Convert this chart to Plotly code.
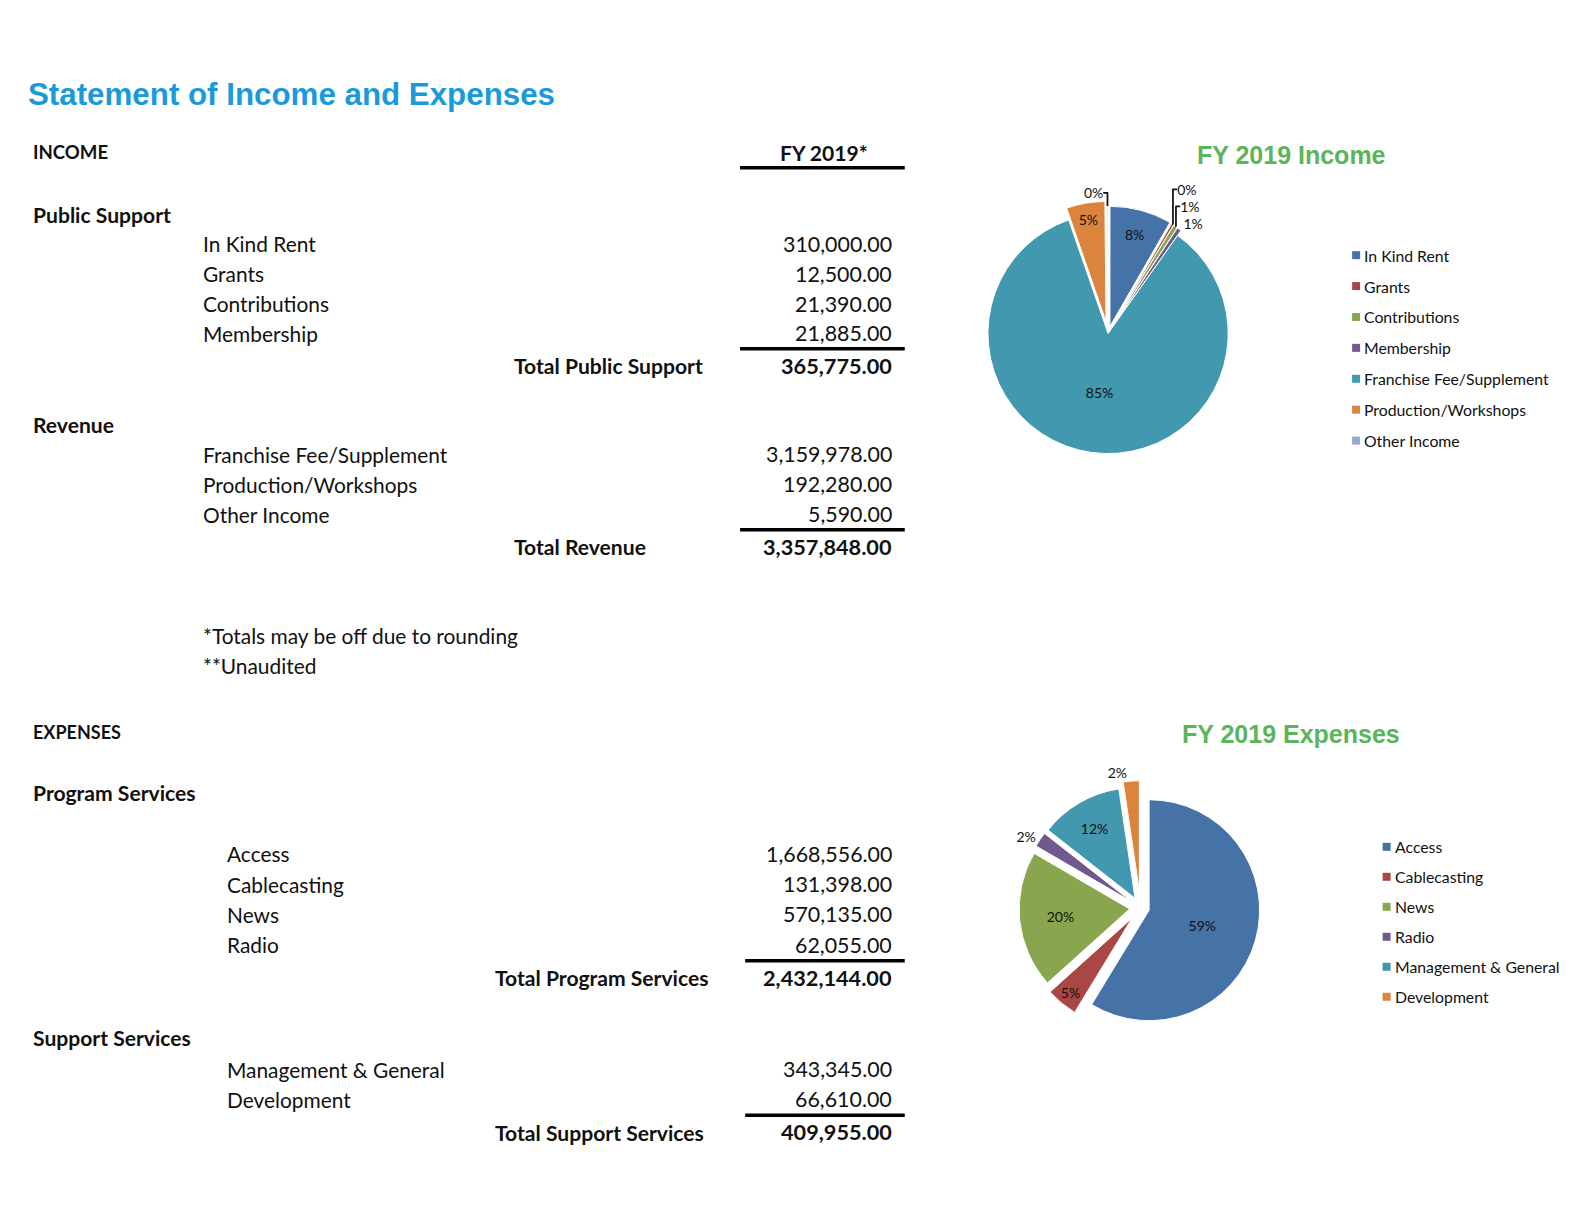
import plotly.graph_objects as go

public_support_labels = ["In Kind Rent", "Grants", "Contributions", "Membership"]
public_support_values = [310000.00, 12500.00, 21390.00, 21885.00]

revenue_labels = ["Franchise Fee/Supplement", "Production/Workshops", "Other Income"]
revenue_values = [3159978.00, 192280.00, 5590.00]

program_labels = ["Access", "Cablecasting", "News", "Radio"]
program_values = [1668556.00, 131398.00, 570135.00, 62055.00]

support_labels = ["Management & General", "Development"]
support_values = [343345.00, 66610.00]

footnotes = ["*Totals may be off due to rounding", "**Unaudited"]

income_colors = ["#4572A7", "#AA4643", "#89A54E", "#71588F", "#4198AF", "#DB843D", "#93A9CF"]
expense_colors = ["#4572A7", "#AA4643", "#89A54E", "#71588F", "#4198AF", "#DB843D"]

income_labels = public_support_labels + revenue_labels
income_values = public_support_values + revenue_values
expense_labels = program_labels + support_labels
expense_values = program_values + support_values

# page is 1594x1209, the browser body keeps an 8px margin.
# positions below were measured on a preview drawn at scale S of the page.
PAGE_W, PAGE_H, PAD = 1594, 1209, 8
S = 1568 / 1594
W, H = PAGE_W - 2 * PAD, PAGE_H - 2 * PAD
BODY = "Lato, Carlito, Calibri, sans-serif"
HEAD = "Liberation Sans, Arial, sans-serif"


def money(v):
    return f"{v:,.2f}"


fig = go.Figure()
ann = []
shapes = []


def txt(x, y, s, size=20.9, bold=False, anchor="left", color="#111", font=BODY):
    if bold:
        s = "<b>" + s + "</b>"
    ann.append(dict(x=x, y=y, xref="x", yref="y", text=s, showarrow=False,
                    xanchor=anchor, yanchor="middle", borderpad=0,
                    font=dict(family=font, size=size, color=color)))


def rule(x0, x1, y):
    shapes.append(dict(type="line", xref="x", yref="y", x0=x0, x1=x1, y0=y, y1=y,
                       line=dict(color="black", width=3.5)))


VAL_X = 878
VAL_SIZE = 21.4
BOLD_SIZE = 21.1
TOT_SIZE = 21.7
CAPS_SIZE = 18.6

# title
txt(27, 93, "Statement of Income and Expenses", size=31.3, bold=True, color="#1A9AD8", font=HEAD)

# income block
txt(31, 150, "INCOME", size=CAPS_SIZE, bold=True)
txt(811, 150, "FY 2019*", size=BOLD_SIZE, bold=True, anchor="center")
rule(728, 890, 165)

txt(31, 211, "Public Support", size=BOLD_SIZE, bold=True)
y = 240
for lab, val in zip(public_support_labels, public_support_values):
    txt(199, y, lab)
    txt(VAL_X, y, money(val), size=VAL_SIZE, anchor="right")
    y += 29.3
rule(728, 890, 343)
txt(505, 360, "Total Public Support", size=BOLD_SIZE, bold=True)
txt(VAL_X, 360, money(sum(public_support_values)), size=TOT_SIZE, bold=True, anchor="right")

txt(31, 418, "Revenue", size=BOLD_SIZE, bold=True)
y = 447
for lab, val in zip(revenue_labels, revenue_values):
    txt(199, y, lab)
    txt(VAL_X, y, money(val), size=VAL_SIZE, anchor="right")
    y += 29.5
rule(728, 890, 521)
txt(505, 538, "Total Revenue", size=BOLD_SIZE, bold=True)
txt(VAL_X, 538, money(sum(revenue_values)), size=TOT_SIZE, bold=True, anchor="right")

txt(199, 625, footnotes[0])
txt(199, 655, footnotes[1])

# expenses block
txt(31, 720, "EXPENSES", size=CAPS_SIZE - 0.6, bold=True)
txt(31, 780, "Program Services", size=BOLD_SIZE, bold=True)
y = 840
for lab, val in zip(program_labels, program_values):
    txt(222, y, lab)
    txt(VAL_X, y, money(val), size=VAL_SIZE, anchor="right")
    y += 29.7
rule(733, 890, 945)
txt(486, 962, "Total Program Services", size=BOLD_SIZE, bold=True)
txt(VAL_X, 962, money(sum(program_values)), size=TOT_SIZE, bold=True, anchor="right")

txt(31, 1021, "Support Services", size=BOLD_SIZE, bold=True)
y = 1052
for lab, val in zip(support_labels, support_values):
    txt(222, y, lab)
    txt(VAL_X, y, money(val), size=VAL_SIZE, anchor="right")
    y += 29.5
rule(733, 890, 1097)
txt(486, 1114, "Total Support Services", size=BOLD_SIZE, bold=True)
txt(VAL_X, 1114, money(sum(support_values)), size=TOT_SIZE, bold=True, anchor="right")

# chart titles
txt(1270, 152, "FY 2019 Income", size=25, bold=True, anchor="center", color="#5BB55A", font=HEAD)
txt(1270, 722, "FY 2019 Expenses", size=25, bold=True, anchor="center", color="#5BB55A", font=HEAD)


def domain(cx, cy, half):
    # preview centre -> paper domain of the figure
    cx, cy, half = cx / S - PAD, cy / S - PAD, half / S
    return dict(x=[(cx - half) / W, (cx + half) / W],
                y=[(H - cy - half) / H, (H - cy + half) / H])


pie_font = dict(family=BODY, size=14, color="#111")

fig.add_trace(go.Pie(
    labels=income_labels, values=income_values, sort=False, direction="clockwise",
    marker=dict(colors=income_colors, line=dict(color="white", width=1)),
    pull=[0.06, 0.05, 0.05, 0.05, 0, 0.1, 0.06],
    texttemplate="%{percent:.0%}", textposition="auto",
    textfont=pie_font, insidetextfont=pie_font, outsidetextfont=pie_font,
    domain=domain(1090, 328, 130), showlegend=False, hoverinfo="label+value+percent",
))

fig.add_trace(go.Pie(
    labels=expense_labels, values=expense_values, sort=False, direction="clockwise",
    marker=dict(colors=expense_colors, line=dict(color="white", width=1)),
    pull=[0.08, 0.12, 0.1, 0.1, 0.1, 0.15],
    texttemplate="%{percent:.0%}", textposition="auto",
    textfont=pie_font, insidetextfont=pie_font, outsidetextfont=pie_font,
    domain=domain(1122, 893, 125), showlegend=False, hoverinfo="label+value+percent",
))


# hand-built legends (wider row spacing than plotly's own legend)
def legend(labels, colors, x, y0, step):
    ys = [y0 + i * step for i in range(len(labels))]
    fig.add_trace(go.Scatter(
        x=[x] * len(labels), y=ys, mode="markers", hoverinfo="skip", showlegend=False,
        marker=dict(symbol="square", size=8, color=colors),
    ))
    for lab, yy in zip(labels, ys):
        txt(x + 7, yy, lab, size=15.8)


legend(income_labels, income_colors, 1334, 251, 30.4)
legend(expense_labels, expense_colors, 1364, 833, 29.5)

fig.update_layout(
    width=W, height=H, margin=dict(l=0, r=0, t=0, b=0),
    paper_bgcolor="white", plot_bgcolor="white",
    xaxis=dict(range=[PAD * S, (PAGE_W - PAD) * S], visible=False, fixedrange=True),
    yaxis=dict(range=[(PAGE_H - PAD) * S, PAD * S], visible=False, fixedrange=True),
    annotations=ann, shapes=shapes, showlegend=False,
)

fig.write_html("out.html")
